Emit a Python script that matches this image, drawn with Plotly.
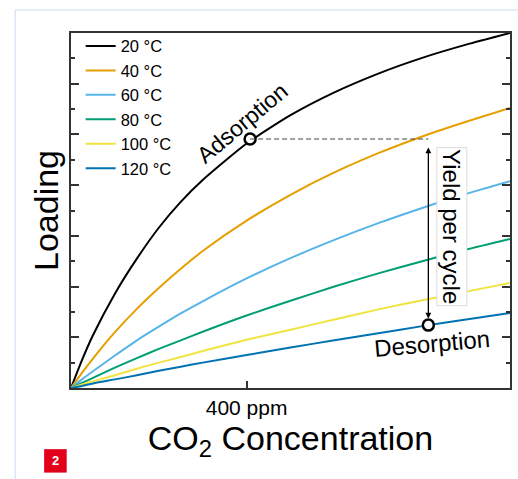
import plotly.graph_objects as go

# CO2 concentration (ppm) sample points
conc = [0, 25, 50, 100, 150, 200, 250, 300, 400, 500, 600, 700, 800, 900, 1000]

# Loading (arbitrary units), one list per temperature
load_20 = [0, 0.55, 1.04, 1.86, 2.55, 3.16, 3.67, 4.10, 4.82, 5.38, 5.83, 6.20, 6.51, 6.77, 7.00]
load_40 = [0, 0.30, 0.58, 1.10, 1.56, 1.97, 2.35, 2.70, 3.30, 3.81, 4.25, 4.63, 4.96, 5.25, 5.52]
load_60 = [0, 0.17, 0.33, 0.64, 0.94, 1.21, 1.47, 1.71, 2.16, 2.56, 2.92, 3.25, 3.55, 3.83, 4.08]
load_80 = [0, 0.10, 0.20, 0.40, 0.59, 0.77, 0.94, 1.11, 1.43, 1.72, 2.00, 2.26, 2.50, 2.73, 2.94]
load_100 = [0, 0.07, 0.13, 0.25, 0.38, 0.50, 0.61, 0.73, 0.95, 1.15, 1.35, 1.55, 1.73, 1.90, 2.07]
load_120 = [0, 0.04, 0.09, 0.17, 0.25, 0.34, 0.42, 0.50, 0.65, 0.80, 0.94, 1.08, 1.22, 1.35, 1.48]

series_names = ["20 °C", "40 °C", "60 °C", "80 °C", "100 °C", "120 °C"]
series_colors = ["#000000", "#E69F00", "#56B4E9", "#009E73", "#F0E442", "#0072B2"]
series_values = [load_20, load_40, load_60, load_80, load_100, load_120]

# Adsorption / desorption working points
ads_point = (408, 4.91)
des_point = (814, 1.24)

tick_vals = [400]
tick_text = ["400 ppm"]

FONT = "Liberation Sans, Arial, sans-serif"

fig = go.Figure()
for name, col, vals in zip(series_names, series_colors, series_values):
    fig.add_trace(go.Scatter(x=conc, y=vals, mode="lines", name=name,
                             line=dict(color=col, width=2, shape="spline", smoothing=0.6)))

# dashed guide
fig.add_shape(type="line", xref="x", yref="y",
              x0=ads_point[0], y0=ads_point[1], x1=des_point[0], y1=ads_point[1],
              line=dict(color="#444444", width=1.2, dash="5px,3px"))

# double arrow
fig.add_annotation(x=des_point[0], y=des_point[1] + 0.13, ax=des_point[0], ay=ads_point[1],
                   xref="x", yref="y", axref="x", ayref="y", text=" ", showarrow=True,
                   arrowhead=2, startarrowhead=2, arrowside="end+start",
                   arrowsize=0.9, startarrowsize=0.9, arrowwidth=1.3, arrowcolor="#000000")

fig.add_trace(go.Scatter(x=[ads_point[0], des_point[0]], y=[ads_point[1], des_point[1]],
                         mode="markers", showlegend=False,
                         marker=dict(symbol="circle", size=11, color="white",
                                     line=dict(color="black", width=2.5))))

fig.add_annotation(x=390, y=5.23, xref="x", yref="y", text="Adsorption", showarrow=False,
                   textangle=-40, font=dict(size=23, color="black", family=FONT))
fig.add_annotation(x=823, y=0.88, xref="x", yref="y", text="Desorption", showarrow=False,
                   textangle=-5, font=dict(size=24, color="black", family=FONT))
fig.add_annotation(x=867, y=3.18, xref="x", yref="y", text="Yield per cycle", showarrow=False,
                   textangle=90, bgcolor="white", bordercolor="#dddddd", borderwidth=1,
                   font=dict(size=24, color="black", family=FONT))

# page decorations: light blue frame and red figure badge
fig.add_shape(type="line", xref="paper", yref="paper", x0=-0.127, x1=-0.127, y0=1.065, y1=-0.26,
              line=dict(color="#dce7f6", width=1.5))
fig.add_shape(type="line", xref="paper", yref="paper", x0=-0.127, x1=1.02, y0=1.065, y1=1.065,
              line=dict(color="#dce7f6", width=1.5))
fig.add_shape(type="rect", xref="paper", yref="paper", x0=-0.0612, x1=-0.0098, y0=-0.2383, y1=-0.1723,
              line=dict(width=0), fillcolor="#e2001a")
fig.add_annotation(x=-0.0355, y=-0.2053, xref="paper", yref="paper", text="<b>2</b>", showarrow=False,
                   xanchor="center", yanchor="middle",
                   font=dict(size=13, color="white", family=FONT))

fig.update_layout(
    width=518, height=479,
    margin=dict(l=71, r=6, t=33, b=91),
    paper_bgcolor="white", plot_bgcolor="white",
    font=dict(family=FONT, color="black"),
    showlegend=True,
    legend=dict(x=0.022, y=1.012, xanchor="left", yanchor="top", bgcolor="rgba(0,0,0,0)",
                font=dict(size=16.5, family=FONT), tracegroupgap=0, itemwidth=30),
    xaxis=dict(range=[0, 1000], tickvals=tick_vals, ticktext=tick_text, ticks="inside",
               ticklen=7, tickwidth=1.5, tickcolor="#333333", showline=True, linecolor="#333333",
               linewidth=2, mirror=True, showgrid=False, zeroline=False,
               tickfont=dict(size=21, family=FONT),
               title=dict(text="CO<sub>2</sub> Concentration", font=dict(size=34, family=FONT), standoff=4)),
    yaxis=dict(range=[0, 7], dtick=1, ticks="inside", ticklen=8, tickwidth=1.5, tickcolor="#333333",
               showticklabels=False, showline=True, linecolor="#333333", linewidth=2, mirror="ticks",
               showgrid=False, zeroline=False,
               minor=dict(dtick=0.5, ticks="inside", ticklen=4, tickwidth=1.5, tickcolor="#333333", showgrid=False),
               title=dict(text="Loading", font=dict(size=34, family=FONT), standoff=0)),
)

fig.write_html("out.html")
